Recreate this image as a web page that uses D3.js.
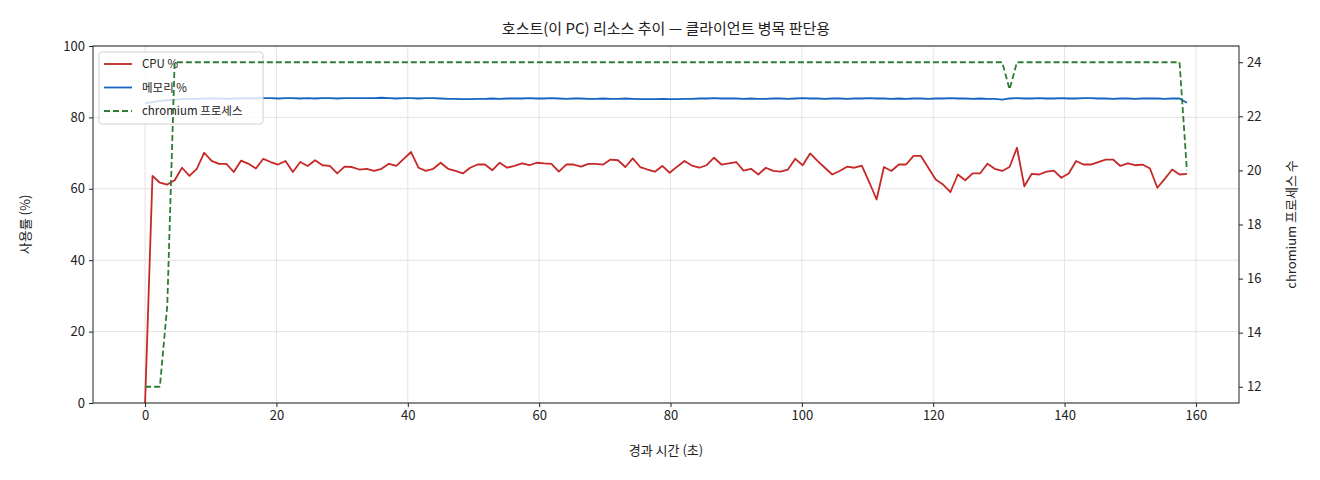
<!DOCTYPE html>
<html>
<head>
<meta charset="utf-8">
<script src="https://cdn.jsdelivr.net/npm/d3@7"></script>
<style>
  body { margin: 0; background: #fff; }
  svg text { font-family: "Noto Sans CJK KR", "Noto Sans", sans-serif; fill: #222; }
  .axis path, .axis line { stroke: #222; }
  .axis text { font-size: 13px; }
</style>
</head>
<body>
<svg id="chart" width="1320" height="480"></svg>
<script>
'use strict';

// sampling step of the monitor (seconds)
const sampleSec = 1.125;

const cpuPct = [
  0, 63.6, 61.7, 61.2, 62.4, 65.9, 63.6, 65.6, 70.1, 67.8,
  67.0, 67.0, 64.7, 67.9, 67.0, 65.7, 68.4, 67.5, 66.8, 67.8,
  64.7, 67.5, 66.4, 68.0, 66.6, 66.4, 64.3, 66.2, 66.1, 65.4,
  65.6, 65.0, 65.6, 67.0, 66.4, 68.4, 70.3, 65.9, 65.0, 65.6,
  67.3, 65.6, 65.0, 64.3, 65.9, 66.8, 66.8, 65.2, 67.3, 65.9,
  66.4, 67.1, 66.6, 67.3, 67.1, 67.0, 64.8, 66.8, 66.8, 66.2,
  67.0, 67.0, 66.8, 68.2, 68.0, 66.1, 68.5, 66.1, 65.4, 64.8,
  66.4, 64.5, 66.2, 67.8, 66.5, 65.9, 66.6, 68.7, 66.8, 67.1,
  67.5, 65.1, 65.6, 64.0, 65.9, 65.0, 64.8, 65.4, 68.4, 66.6,
  69.9, 67.8, 65.9, 64.0, 65.0, 66.2, 65.9, 66.5, 61.9, 57.0,
  66.1, 65.0, 66.8, 66.8, 69.2, 69.2, 65.9, 62.6, 61.2, 59.1,
  64.0, 62.4, 64.3, 64.3, 67.0, 65.6, 65.0, 66.1, 71.5, 60.7,
  64.2, 64.0, 64.8, 65.1, 63.1, 64.3, 67.8, 66.8, 66.8, 67.5,
  68.2, 68.2, 66.4, 67.1, 66.6, 66.8, 65.7, 60.3, 62.8, 65.4,
  64.0, 64.2
];

const memPct = [
  84.0, 84.3, 84.6, 84.8, 85.0, 85.1, 85.2, 85.2, 85.3, 85.3,
  85.3, 85.2, 85.3, 85.3, 85.4, 85.3, 85.4, 85.4, 85.3, 85.4,
  85.4, 85.3, 85.4, 85.3, 85.4, 85.4, 85.3, 85.4, 85.4, 85.4,
  85.4, 85.4, 85.5, 85.4, 85.3, 85.4, 85.4, 85.3, 85.4, 85.4,
  85.3, 85.2, 85.2, 85.1, 85.1, 85.2, 85.2, 85.3, 85.2, 85.3,
  85.3, 85.3, 85.4, 85.3, 85.3, 85.4, 85.3, 85.2, 85.3, 85.3,
  85.2, 85.2, 85.3, 85.2, 85.2, 85.3, 85.2, 85.1, 85.1, 85.1,
  85.2, 85.1, 85.1, 85.2, 85.2, 85.3, 85.3, 85.4, 85.3, 85.3,
  85.3, 85.2, 85.3, 85.2, 85.2, 85.3, 85.3, 85.2, 85.3, 85.4,
  85.3, 85.3, 85.2, 85.3, 85.3, 85.2, 85.3, 85.3, 85.4, 85.3,
  85.3, 85.2, 85.3, 85.2, 85.3, 85.3, 85.2, 85.3, 85.3, 85.4,
  85.3, 85.3, 85.2, 85.3, 85.2, 85.2, 85.0, 85.3, 85.4, 85.3,
  85.3, 85.4, 85.3, 85.3, 85.4, 85.3, 85.3, 85.4, 85.4, 85.3,
  85.3, 85.2, 85.3, 85.3, 85.2, 85.3, 85.3, 85.3, 85.2, 85.3,
  85.3, 84.1
];

const chromiumProcs = [
  12, 12, 12, 15, 24, 24, 24, 24, 24, 24,
  24, 24, 24, 24, 24, 24, 24, 24, 24, 24,
  24, 24, 24, 24, 24, 24, 24, 24, 24, 24,
  24, 24, 24, 24, 24, 24, 24, 24, 24, 24,
  24, 24, 24, 24, 24, 24, 24, 24, 24, 24,
  24, 24, 24, 24, 24, 24, 24, 24, 24, 24,
  24, 24, 24, 24, 24, 24, 24, 24, 24, 24,
  24, 24, 24, 24, 24, 24, 24, 24, 24, 24,
  24, 24, 24, 24, 24, 24, 24, 24, 24, 24,
  24, 24, 24, 24, 24, 24, 24, 24, 24, 24,
  24, 24, 24, 24, 24, 24, 24, 24, 24, 24,
  24, 24, 24, 24, 24, 24, 24, 23, 24, 24,
  24, 24, 24, 24, 24, 24, 24, 24, 24, 24,
  24, 24, 24, 24, 24, 24, 24, 24, 24, 24,
  24, 20
];

const xTicks = [0, 20, 40, 60, 80, 100, 120, 140, 160];
const yLeftTicks = [0, 20, 40, 60, 80, 100];
const yRightTicks = [12, 14, 16, 18, 20, 22, 24];

const legendItems = [
  { label: 'CPU %', color: '#c62828', dash: null },
  { label: '메모리 %', color: '#1565c0', dash: null },
  { label: 'chromium 프로세스', color: '#2e7d32', dash: '6,3' }
];

const margin = { top: 46, left: 93, bottom: 77, right: 81 };
const width = 1320 - margin.left - margin.right;
const height = 480 - margin.top - margin.bottom;

const svg = d3.select('#chart');
const chart = svg.append('g')
  .attr('transform', `translate(${margin.left}, ${margin.top})`);

const lastT = (cpuPct.length - 1) * sampleSec;
const xPad = lastT * 0.05;
const xScale = d3.scaleLinear()
  .domain([-xPad, lastT + xPad])
  .range([0, width]);

const yLeft = d3.scaleLinear().domain([0, 100]).range([height, 0]);
const yRight = d3.scaleLinear().domain([11.4, 24.6]).range([height, 0]);

// grid
chart.append('g')
  .selectAll('line')
  .data(xTicks)
  .enter().append('line')
    .attr('x1', d => xScale(d)).attr('x2', d => xScale(d))
    .attr('y1', 0).attr('y2', height)
    .attr('stroke', '#e3e3e3');
chart.append('g')
  .selectAll('line')
  .data(yLeftTicks)
  .enter().append('line')
    .attr('x1', 0).attr('x2', width)
    .attr('y1', d => yLeft(d)).attr('y2', d => yLeft(d))
    .attr('stroke', '#e3e3e3');

const series = [
  { values: cpuPct, scale: yLeft, item: legendItems[0] },
  { values: memPct, scale: yLeft, item: legendItems[1] },
  { values: chromiumProcs, scale: yRight, item: legendItems[2] }
];

function drawSeries(s) {
  const line = d3.line()
    .x((d, i) => xScale(i * sampleSec))
    .y(d => s.scale(d));
  chart.append('path')
    .datum(s.values)
    .attr('fill', 'none')
    .attr('stroke', s.item.color)
    .attr('stroke-width', 1.8)
    .attr('stroke-linejoin', 'round')
    .attr('stroke-dasharray', s.item.dash)
    .attr('d', line);
}

// left-axis lines, then their legend, then the twin-axis line on top
drawSeries(series[0]);
drawSeries(series[1]);

const legend = chart.append('g').attr('transform', 'translate(6, 6)');
legend.append('rect')
  .attr('width', 164).attr('height', 72)
  .attr('rx', 3)
  .attr('fill', '#fff').attr('fill-opacity', 0.8)
  .attr('stroke', '#d0d0d0');
const entry = legend.selectAll('.entry')
  .data(legendItems)
  .enter().append('g')
    .attr('class', 'entry')
    .attr('transform', (d, i) => `translate(0, ${12 + i * 23.5})`);
entry.append('line')
  .attr('x1', 5).attr('x2', 33)
  .attr('stroke', d => d.color)
  .attr('stroke-width', 1.8)
  .attr('stroke-dasharray', d => d.dash);
entry.append('text')
  .attr('x', 43).attr('dy', '0.35em')
  .style('font-size', '11.5px')
  .text(d => d.label);

drawSeries(series[2]);

// axes
chart.append('g')
  .attr('class', 'axis')
  .attr('transform', `translate(0, ${height})`)
  .call(d3.axisBottom(xScale).tickValues(xTicks).tickSize(4).tickPadding(4));
chart.append('g')
  .attr('class', 'axis')
  .call(d3.axisLeft(yLeft).tickValues(yLeftTicks).tickSize(4).tickPadding(4));
chart.append('g')
  .attr('class', 'axis')
  .attr('transform', `translate(${width}, 0)`)
  .call(d3.axisRight(yRight).tickValues(yRightTicks).tickSize(4).tickPadding(4));
chart.selectAll('.axis .domain').remove();

chart.append('rect')
  .attr('width', width).attr('height', height)
  .attr('fill', 'none').attr('stroke', '#222').attr('stroke-width', 1);

// titles
svg.append('text')
  .attr('x', margin.left + width / 2).attr('y', 34)
  .attr('text-anchor', 'middle')
  .style('font-size', '15px')
  .text('호스트(이 PC) 리소스 추이 — 클라이언트 병목 판단용');
svg.append('text')
  .attr('x', margin.left + width / 2).attr('y', 455)
  .attr('text-anchor', 'middle')
  .style('font-size', '13px')
  .text('경과 시간 (초)');
svg.append('text')
  .attr('transform', `translate(30, ${margin.top + height / 2}) rotate(-90)`)
  .attr('text-anchor', 'middle')
  .style('font-size', '13px')
  .text('사용률 (%)');
svg.append('text')
  .attr('transform', `translate(1296, ${margin.top + height / 2}) rotate(-90)`)
  .attr('text-anchor', 'middle')
  .style('font-size', '13px')
  .text('chromium 프로세스 수');
</script>
</body>
</html>
